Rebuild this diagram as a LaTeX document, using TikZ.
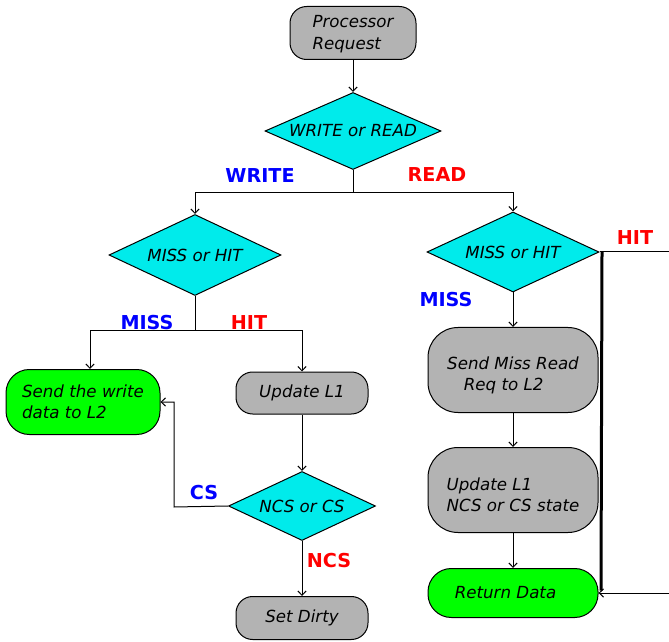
\documentclass[tikz,border=0pt]{standalone}
\usepackage{fontspec}
\setmainfont{DejaVu Sans}
\usetikzlibrary{arrows.meta}
\usetikzlibrary{shapes.geometric}
\definecolor{decfill}{RGB}{0,235,235}
\definecolor{procfill}{RGB}{179,179,179}
\definecolor{donefill}{RGB}{0,255,0}
\tikzset{>={Straight Barb[length=2.6pt,width=5pt]}}
\tikzset{
    decision/.style = {diamond, draw, fill=decfill, inner sep=0pt, line width=0.6pt, aspect=2.2,
        font={\fontsize{10}{12.8}\selectfont\itshape}},
    procbox/.style = {rectangle, rounded corners=10pt, draw, fill=procfill, line width=0.6pt,
        align=left, inner sep=0pt, font={\fontsize{10}{12.8}\selectfont\itshape}},
    donebox/.style = {procbox, fill=donefill},
    bluelbl/.style = {text=blue, font={\fontsize{11.5}{13}\selectfont\bfseries}},
    redlbl/.style = {text=red, font={\fontsize{11.5}{13}\selectfont\bfseries}},
    flow/.style = {->, line width=0.6pt}
}
\newcommand{\lowtext}[1]{\rule{0pt}{#1}}

\begin{document}
\begin{tikzpicture}[x=0.6pt, y=0.6pt]
            \useasboundingbox (0,0) rectangle (669,-642);
            % top of the flow
            \node[procbox, minimum width=75.6pt, minimum height=31.8pt] (req) at (353,-33) {\lowtext{8.5pt}Processor\\Request};
            \node[decision, aspect=2.29, minimum width=105.6pt, minimum height=46.2pt] (wr) at (353,-131) {WRITE or READ};
            \coordinate (split1) at (353,-193);
            \node[bluelbl] (wlbl) at (260,-176) {WRITE};
            \node[redlbl] (rlbl) at (437,-175) {READ};

            % write side
            \node[decision, aspect=2.12, minimum width=103.2pt, minimum height=48.6pt] (wmh) at (195,-255) {MISS or HIT};
            \coordinate (split2) at (195,-331);
            \node[bluelbl] (wmiss) at (147,-323) {MISS};
            \node[redlbl] (whit) at (249,-323) {HIT};
            \node[donebox, rounded corners=14pt, minimum width=92.4pt, minimum height=39pt] (sendw) at (83,-402) {Send the write\\data to L2};
            \node[procbox, minimum width=79.2pt, minimum height=25.2pt] (upd) at (302,-393) {Update L1};
            \node[decision, aspect=2.13, minimum width=88.2pt, minimum height=41.4pt] (ncs) at (302,-506) {NCS or CS};
            \coordinate (csbend) at (174,-507);
            \node[bluelbl] (cslbl) at (204,-493) {CS};
            \node[redlbl] (ncslbl) at (329,-561) {NCS};
            \node[procbox, minimum width=79.2pt, minimum height=25.8pt] (dirty) at (302,-618) {Set Dirty};

            % read side
            \node[decision, aspect=2.15, minimum width=103.2pt, minimum height=48pt] (rmh) at (513,-252) {MISS or HIT};
            \node[bluelbl] (rmiss) at (446,-300) {MISS};
            \node[redlbl] (rhit) at (635,-238) {HIT};
            \node[procbox, rounded corners=18pt, minimum width=102pt, minimum height=51pt] (sendr) at (513,-370) {\lowtext{14pt}Send Miss Read\\\hspace*{1em}Req to L2};
            \node[procbox, rounded corners=18pt, minimum width=102pt, minimum height=51pt] (updr) at (513,-490) {\lowtext{13.5pt}Update L1\\NCS or CS state};
            \node[donebox, rounded corners=14pt, minimum width=102pt, minimum height=29.4pt] (ret) at (513,-593) {Return Data\hspace*{0.9em}};
            \coordinate (hitout) at (669,-252);
            \coordinate (hitin) at (669,-593);

            % connectors
            \draw[flow] (req) -- (wr);
            \draw[line width=0.6pt] (wr) -- (split1);
            \draw[flow] (split1) -| (wmh.north);
            \draw[flow] (split1) -| (rmh.north);
            \draw[line width=0.6pt] (wmh) -- (split2);
            \draw[flow] (split2) -| ([xshift=4.2pt]sendw.north);
            \draw[flow] (split2) -| (upd.north);
            \draw[flow] (upd) -- (ncs);
            \draw[flow] (ncs.west) -- (csbend) |- (sendw.east);
            \draw[flow] (ncs) -- (dirty);
            \draw[flow] (rmh) -- (sendr);
            \draw[flow] (sendr) -- (updr);
            \draw[flow] (updr) -- (ret);
            \draw[line width=0.6pt] (rmh.east) -- (hitout);
            \draw[line width=1.8pt] ([xshift=1.5pt]rmh.east) -- ([xshift=1.5pt,yshift=1.5pt]ret.east);
            \draw[flow] (hitin) -- (ret.east);
\end{tikzpicture}
\end{document}
